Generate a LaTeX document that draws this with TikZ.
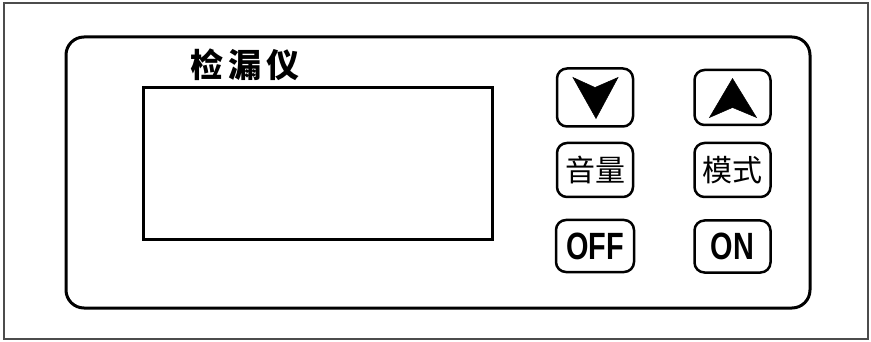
\documentclass[tikz,border=0pt]{standalone}
\usepackage{fontspec}
\setmainfont{Liberation Sans}
\newfontfamily\cjk{Noto Sans CJK SC}
\usetikzlibrary{positioning, calc}
\tikzset{
  panel/.style={draw=black, line width=3pt, rounded corners=18pt},
  screen/.style={draw=black, line width=3pt, minimum width=349pt, minimum height=152pt, inner sep=0pt},
  btn/.style={draw=black, line width=2.5pt, rounded corners=10pt, minimum width=76pt, inner sep=0pt},
  keytext/.style={font=\cjk\fontsize{30}{30}\selectfont},
  arrowmark/.style={fill=black, draw=black, line width=0.5pt, line join=miter}
}
\begin{document}
\begin{tikzpicture}[x=1pt, y=-1pt]
\useasboundingbox (0,0) rectangle (871,342);

% Frame and panel
\draw [draw=black!70, line width=2pt] (4,3) rectangle (868,339);
\draw [panel] (66,37) rectangle (810,308);

% Title and display
\node (title) [font=\cjk\bfseries\fontsize{33}{33}\selectfont] at (245,65) {检\hspace{5pt}漏\hspace{5pt}仪};
\node (lcd) [screen] at (317.5,164) {};

% Keys
\node (down) [btn, minimum height=58pt] at (595,97.5) {};
\node (up) [btn, minimum height=55pt] at (732.5,97.5) {};
\node (vol) [btn, minimum height=54pt, keytext] at (595,170) {音量};
\node (mode) [btn, minimum height=54pt, keytext] at (732.5,170) {模式};
\node (off) [btn, minimum height=52pt, minimum width=78pt] at (595,246) {\scalebox{0.76}[1]{\fontsize{38}{38}\selectfont\bfseries OFF}};
\node (on) [btn, minimum height=52pt] at (732.5,246.5) {\scalebox{0.76}[1]{\fontsize{38}{38}\selectfont\bfseries ON}};

% Arrow marks
\fill [arrowmark] ($(down)+(-22,-20)$) -- ($(down)+(0,-10)$) -- ($(down)+(23,-20)$) -- ($(down)+(1,21)$) -- cycle;
\fill [arrowmark] ($(up)+(0,-19)$) -- ($(up)+(24,20)$) -- ($(up)+(0,10)$) -- ($(up)+(-23,20)$) -- cycle;

\end{tikzpicture}
\end{document}
